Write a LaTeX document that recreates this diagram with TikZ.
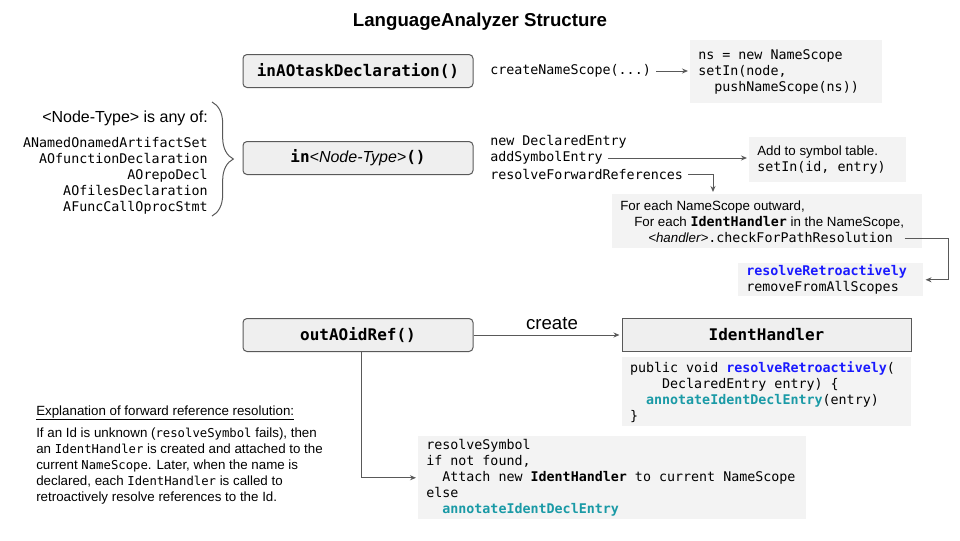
\documentclass[tikz,border=0pt]{standalone}
\usepackage{fontspec}
\setmainfont{Liberation Sans}
\setsansfont{Liberation Sans}
\setmonofont{DejaVu Sans Mono}
\usetikzlibrary{arrows.meta, decorations.pathreplacing, positioning}

\newdimen\pxu \pxu=0.75pt
\definecolor{linegray}{HTML}{595959}
\definecolor{boxgray}{HTML}{EFEFEF}
\definecolor{codegray}{HTML}{F3F3F3}
\definecolor{kwblue}{HTML}{1A1AFF}
\definecolor{kwteal}{HTML}{1A9AA6}
\newcommand\smalltt[1]{{\ttfamily\fontsize{9.2}{12}\selectfont #1}}

\begin{document}
\begin{tikzpicture}[x=0.75pt, y=-0.75pt,
    func/.style={draw=linegray, line width=0.75pt, fill=boxgray, rounded corners=3pt,
        minimum width=230\pxu, minimum height=33\pxu,
        font=\ttfamily\bfseries\fontsize{12}{14}\selectfont},
    code/.style={font=\ttfamily, inner xsep=5\pxu, inner ysep=2\pxu},
    codebox/.style={fill=codegray, align=flush left, anchor=north west, inner xsep=8\pxu, inner ysep=0pt,
        font=\ttfamily},
    arr/.style={draw=linegray, line width=0.75pt, -{Stealth[length=4.5pt, width=3.75pt]}, shorten >=1.5pt}]
    \useasboundingbox (0,0) rectangle (960,540);

    % Title
    \node[font=\bfseries\fontsize{14}{16}\selectfont] (title) at (480,22) {LanguageAnalyzer Structure};

    % Task declaration
    \node[func] (taskdecl) at (358,71) {inAOtaskDeclaration()};
    \node[code, anchor=west] (mkscope) at (485,71) {createNameScope(...)};
    \node[codebox, text width=176\pxu, minimum height=63\pxu] (nsbox) at (690,40)
        {ns = new NameScope\\setIn(node,\\\phantom{xx}pushNameScope(ns))};
    \draw[arr] (mkscope.east) -- (mkscope.east -| nsbox.west);

    % Node types
    \node[font=\fontsize{12}{14}\selectfont, anchor=base east, inner sep=0pt] (anyof) at (208,122) {<Node-Type> is any of:};
    \foreach \nm [count=\i] in {ANamedOnamedArtifactSet, AOfunctionDeclaration, AOrepoDecl, AOfilesDeclaration, AFuncCallOprocStmt}
        \node[code, anchor=base east, inner xsep=0pt] (nt\i) at (208,131.5+16*\i) {\nm};
    \draw[linegray, line width=0.75pt, decorate, decoration={brace, amplitude=16pt}] (212,102) -- (212,216);

    \node[func] (intype) at (358,158) {in{\sffamily\mdseries\itshape <Node-Type>}()};
    \node[code, anchor=west] (newentry) at (485,142) {new DeclaredEntry};
    \node[code, anchor=west] (addsym) at (485,158) {addSymbolEntry};
    \node[code, anchor=west] (resfwd) at (485,174) {resolveForwardReferences};

    % Symbol table
    \node[codebox, text width=141\pxu, minimum height=45\pxu] (symtab) at (749,137)
        {\textsf{Add to symbol table.}\\setIn(id, entry)};
    \draw[arr] (addsym.east) -- (addsym.east -| symtab.west);

    % Forward references
    \node[codebox, text width=294\pxu, minimum height=54\pxu] (forbox) at (612,194)
        {\textsf{For each NameScope outward,}\\
         \hspace*{14\pxu}\textsf{For each }\textbf{IdentHandler}\textsf{ in the NameScope,}\\
         \hspace*{28\pxu}\textsf{\itshape <handler>}.checkForPathResolution};
    \draw[arr] (resfwd.east) -| ([xshift=101\pxu]forbox.north west);

    \node[codebox, text width=169\pxu, minimum height=33\pxu] (retro) at (738,263)
        {\textcolor{kwblue}{\bfseries resolveRetroactively}\\removeFromAllScopes};
    \draw[arr] ([shift={(-18,17)}]forbox.east) -- ++(44,0) |- (retro.east);

    % Identifier reference
    \node[func] (outref) at (358,335) {outAOidRef()};
    \node[func, sharp corners, minimum width=289\pxu] (ihead) at (766.5,335) {IdentHandler};
    \draw[arr] (outref) -- node[above, pos=0.53, font=\fontsize{14}{16}\selectfont] (createlbl) {create} (ihead);

    \node[codebox, text width=273\pxu, minimum height=69\pxu, below=3.75pt of ihead] (ihbody)
        {public void \textcolor{kwblue}{\bfseries resolveRetroactively}(\\
         \phantom{xxxx}DeclaredEntry entry) \{\\
         \phantom{xx}\textcolor{kwteal}{\bfseries annotateIdentDeclEntry}(entry)\\
         \}};

    \node[codebox, text width=372\pxu, minimum height=83\pxu] (resbox) at (418,436)
        {resolveSymbol\\if not found,\\
         \phantom{xx}Attach new \textbf{IdentHandler} to current NameScope\\
         else\\
         \phantom{xx}\textcolor{kwteal}{\bfseries annotateIdentDeclEntry}};
    \draw[arr] ([xshift=3\pxu]outref.south) |- (resbox.west);

    % Explanation
    \node[anchor=base west, inner sep=0pt] (explhead) at (36,415) {\underline{Explanation of forward reference resolution:}};
    \node[anchor=north west, align=flush left, inner sep=0pt] (expltext) at (36,428)
        {If an Id is unknown (\smalltt{resolveSymbol} fails), then\\
         an \smalltt{IdentHandler} is created and attached to the\\
         current \smalltt{NameScope}. Later, when the name is\\
         declared, each \smalltt{IdentHandler} is called to\\
         retroactively resolve references to the Id.};
\end{tikzpicture}
\end{document}
